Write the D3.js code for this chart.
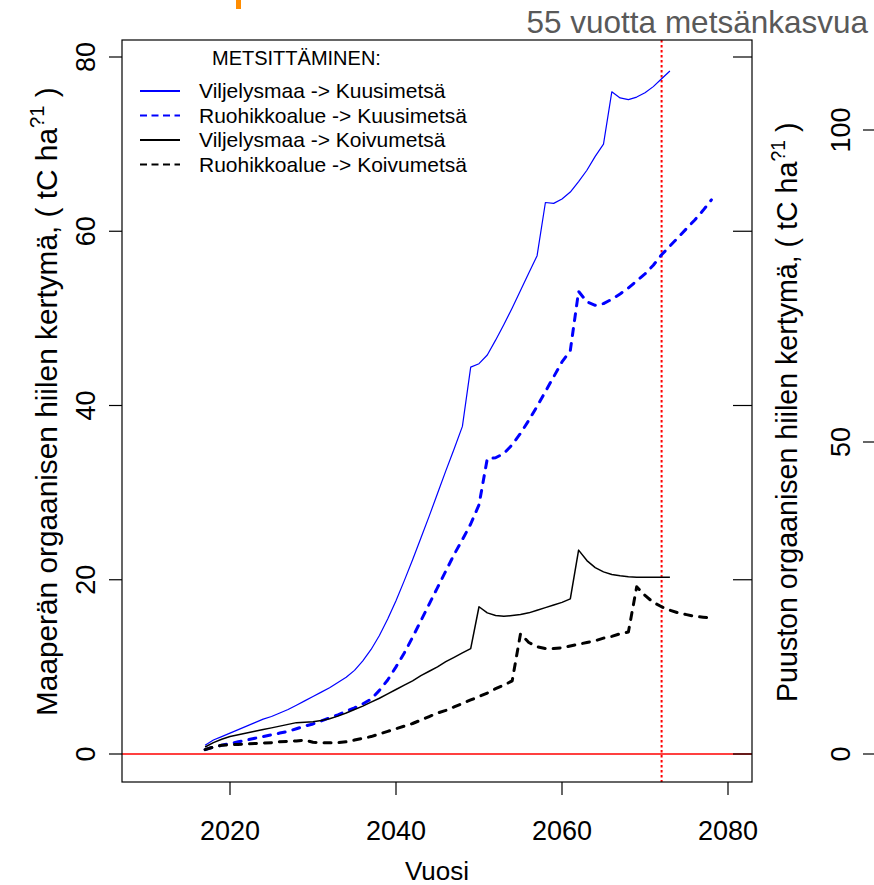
<!DOCTYPE html>
<html>
<head>
<meta charset="utf-8">
<script src="https://cdn.jsdelivr.net/npm/d3@7"></script>
<style>
  html, body { margin: 0; padding: 0; background: #fff; }
  svg { display: block; font-family: "Liberation Sans", Arial, sans-serif; }
</style>
</head>
<body>
<svg id="chart" width="874" height="885"></svg>
<script>
// ---- data ----
const yearsShort = d3.range(2017, 2074); // 2017..2073
const yearsLong = d3.range(2017, 2079);  // 2017..2078

const viljelysKuusi = [1.0,1.6,2.0,2.4,2.8,3.2,3.6,4.0,4.3,4.7,
  5.1,5.6,6.1,6.6,7.1,7.6,8.2,8.8,9.6,10.7,
  12.0,13.6,15.5,17.6,19.9,22.3,24.8,27.3,29.9,32.5,
  35.0,37.6,44.4,44.8,45.8,47.5,49.3,51.2,53.2,55.2,
  57.2,63.3,63.2,63.7,64.5,65.7,67.0,68.6,70.0,76.0,
  75.3,75.1,75.4,75.9,76.6,77.5,78.4];

const ruohikkoKuusi = [0.5,0.8,1.0,1.2,1.4,1.6,1.8,2.0,2.2,2.4,
  2.6,2.9,3.2,3.45,3.8,4.15,4.5,4.9,5.3,5.75,
  6.3,7.3,8.5,10.0,11.6,13.4,15.3,17.2,19.1,21.0,
  22.9,24.6,26.4,28.6,33.9,34.0,34.5,35.5,36.8,38.3,
  39.9,41.6,43.3,45.0,46.3,53.1,51.9,51.5,51.7,52.2,
  52.8,53.5,54.3,55.1,56.1,57.3,58.3,59.3,60.3,61.3,
  62.4,63.6];

const viljelysKoivu = [0.8,1.3,1.7,2.0,2.2,2.4,2.6,2.8,3.0,3.2,
  3.4,3.6,3.65,3.7,3.85,4.05,4.35,4.7,5.1,5.5,
  5.95,6.4,6.9,7.4,7.9,8.4,9.0,9.5,10.0,10.6,
  11.1,11.6,12.1,16.9,16.2,15.9,15.8,15.9,16.0,16.2,
  16.5,16.8,17.1,17.4,17.8,23.4,22.2,21.4,20.9,20.6,
  20.45,20.35,20.3,20.3,20.3,20.3,20.3];

const ruohikkoKoivu = [0.5,0.8,1.0,1.05,1.1,1.15,1.2,1.25,1.3,1.4,
  1.45,1.5,1.6,1.35,1.3,1.3,1.3,1.4,1.6,1.8,
  2.0,2.3,2.6,2.9,3.2,3.5,3.9,4.3,4.7,5.0,
  5.4,5.8,6.2,6.6,7.0,7.5,7.9,8.4,13.8,12.8,
  12.3,12.1,12.1,12.2,12.4,12.6,12.8,13.0,13.3,13.5,
  13.8,14.0,19.2,18.2,17.4,16.9,16.5,16.2,16.0,15.8,
  15.7,15.6];

const xTicks = [2020, 2040, 2060, 2080];
const yLeftTicks = [0, 20, 40, 60, 80];
const yRightTicks = [0, 50, 100];
const markerYear = 2072;

const legendTitle = "METSITTÄMINEN:";
const legendLabels = ["Viljelysmaa -> Kuusimetsä", "Ruohikkoalue -> Kuusimetsä",
                      "Viljelysmaa -> Koivumetsä", "Ruohikkoalue -> Koivumetsä"];

// ---- layout ----
const svg = d3.select("#chart");
const box = {left: 122, right: 752, top: 40, bottom: 782};

const x = d3.scaleLinear().domain([2020, 2080]).range([230, 728]);
const y = d3.scaleLinear().domain([0, 80]).range([754, 57]);
const y2 = d3.scaleLinear().domain([0, 100]).range([754, 130]);

const series = [
  {years: yearsShort, vals: viljelysKuusi, color: "#0000FF", width: 1.2, dash: null},
  {years: yearsLong, vals: ruohikkoKuusi, color: "#0000FF", width: 3, dash: "7,8"},
  {years: yearsShort, vals: viljelysKoivu, color: "#000000", width: 1.5, dash: null},
  {years: yearsLong, vals: ruohikkoKoivu, color: "#000000", width: 3, dash: "7,8"}
];

// orange fragment at top
svg.append("rect").attr("x", 236).attr("y", 0).attr("width", 5).attr("height", 9).attr("fill", "#FF8C00");

// subtitle
svg.append("text").attr("x", 868).attr("y", 33).attr("text-anchor", "end")
  .attr("font-size", 31.5).attr("fill", "#595959").text("55 vuotta metsänkasvua");

// zero line
svg.append("line").attr("x1", box.left).attr("x2", box.right).attr("y1", y(0)).attr("y2", y(0))
  .attr("stroke", "#FF0000").attr("stroke-width", 1.5);

// vertical marker
svg.append("line").attr("x1", x(markerYear)).attr("x2", x(markerYear)).attr("y1", box.top).attr("y2", box.bottom)
  .attr("stroke", "#FF0000").attr("stroke-width", 2).attr("stroke-dasharray", "2.5,2.5");

// lines
const line = d3.line().x(d => x(d[0])).y(d => y(d[1]));
series.forEach(s => {
  const pts = s.years.map((yr, i) => [yr, s.vals[i]]);
  const p = svg.append("path").attr("d", line(pts)).attr("fill", "none")
    .attr("stroke", s.color).attr("stroke-width", s.width).attr("stroke-linejoin", "round");
  if (s.dash) p.attr("stroke-dasharray", s.dash).attr("stroke-linecap", "round");
});

// box
svg.append("rect").attr("x", box.left).attr("y", box.top)
  .attr("width", box.right - box.left).attr("height", box.bottom - box.top)
  .attr("fill", "none").attr("stroke", "#000").attr("stroke-width", 1.2);

// x axis
const gx = svg.append("g");
xTicks.forEach(t => {
  gx.append("line").attr("x1", x(t)).attr("x2", x(t)).attr("y1", box.bottom).attr("y2", box.bottom + 13)
    .attr("stroke", "#000").attr("stroke-width", 1.2);
  gx.append("text").attr("x", x(t)).attr("y", 840).attr("text-anchor", "middle")
    .attr("font-size", 27).text(t);
});
svg.append("text").attr("x", 437).attr("y", 880).attr("text-anchor", "middle")
  .attr("font-size", 26).text("Vuosi");

// left axis
yLeftTicks.forEach(t => {
  svg.append("line").attr("x1", box.left - 13).attr("x2", box.left).attr("y1", y(t)).attr("y2", y(t))
    .attr("stroke", "#000").attr("stroke-width", 1.2);
  svg.append("line").attr("x1", box.right - 19).attr("x2", box.right).attr("y1", y(t)).attr("y2", y(t))
    .attr("stroke", "#000").attr("stroke-width", 1.2);
  svg.append("text").attr("transform", `translate(94.5,${y(t)}) rotate(-90)`)
    .attr("text-anchor", "middle").attr("font-size", 27).text(t);
});

// right axis
yRightTicks.forEach(t => {
  svg.append("line").attr("x1", 863).attr("x2", 874).attr("y1", y2(t)).attr("y2", y2(t))
    .attr("stroke", "#000").attr("stroke-width", 1.2);
  svg.append("text").attr("transform", `translate(849.5,${y2(t)}) rotate(-90)`)
    .attr("text-anchor", "middle").attr("font-size", 27).text(t);
});

// axis titles
function axisTitle(cx, startY, first, fs) {
  const t = svg.append("text").attr("transform", `translate(${cx},${startY}) rotate(-90)`)
    .attr("text-anchor", "start").attr("font-size", fs);
  t.append("tspan").text(first + " ( tC ha");
  t.append("tspan").attr("font-size", fs * 0.68).attr("dy", -fs * 0.42).text("?1");
  t.append("tspan").attr("dy", fs * 0.42).text(" )");
}
axisTitle(57, 716, "Maaperän orgaanisen hiilen kertymä,", 29.8);
axisTitle(797, 702, "Puuston orgaanisen hiilen kertymä,", 28.6);

// legend
svg.append("text").attr("x", 212).attr("y", 65).attr("font-size", 20).text(legendTitle);
series.forEach((s, i) => {
  const ly = 91 + i * 24.5;
  const l = svg.append("line").attr("x1", 140).attr("x2", 180).attr("y1", ly).attr("y2", ly)
    .attr("stroke", s.color).attr("stroke-width", 2);
  if (s.dash) l.attr("stroke-dasharray", "7,4.5");
  svg.append("text").attr("x", 199).attr("y", ly + 7).attr("font-size", 21).text(legendLabels[i]);
});
</script>
</body>
</html>
